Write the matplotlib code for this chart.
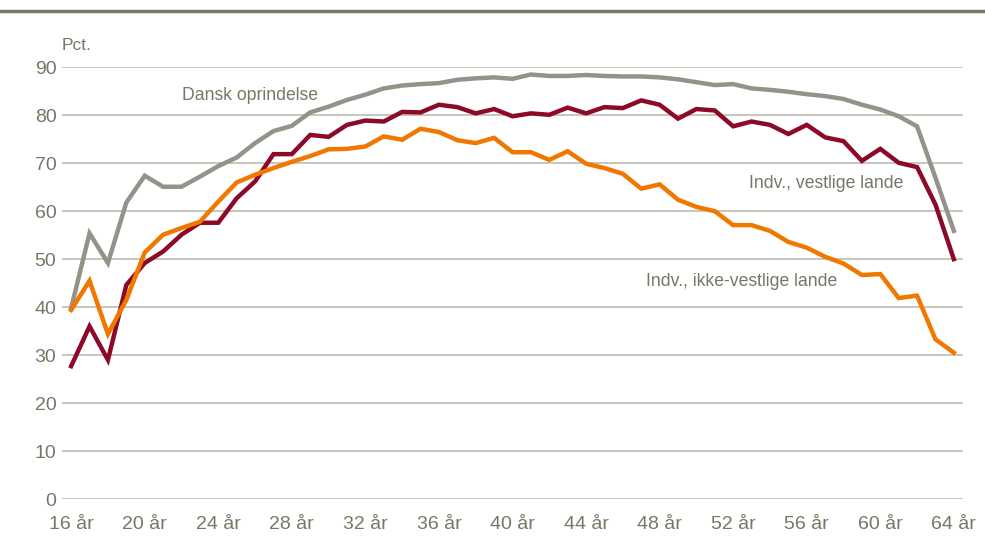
import numpy as np
import matplotlib
matplotlib.use("Agg")
import matplotlib.pyplot as plt

plt.rcParams['font.family'] = ['Liberation Sans', 'DejaVu Sans']

ages = list(range(16, 65))
tick_ages = list(range(16, 65, 4))
tick_labels = [f"{a} år" for a in tick_ages]

dansk = [39.8, 55.4, 49.2, 61.8, 67.4, 65.1, 65.1, 67.2, 69.4, 71.2,
         74.2, 76.7, 77.8, 80.6, 81.8, 83.2, 84.3, 85.6, 86.2, 86.5,
         86.7, 87.4, 87.7, 87.9, 87.6, 88.5, 88.2, 88.2, 88.4, 88.2,
         88.1, 88.1, 87.9, 87.5, 86.9, 86.3, 86.5, 85.6, 85.3, 84.9,
         84.4, 84.0, 83.4, 82.2, 81.2, 79.8, 77.7, 67.0, 55.9]
vestlige = [27.7, 36.0, 29.0, 44.6, 49.2, 51.6, 55.1, 57.6, 57.6, 62.7,
            66.2, 71.9, 71.9, 75.9, 75.5, 78.0, 78.9, 78.7, 80.7, 80.6,
            82.2, 81.7, 80.4, 81.3, 79.8, 80.4, 80.1, 81.6, 80.4, 81.7,
            81.5, 83.1, 82.2, 79.3, 81.3, 81.0, 77.7, 78.7, 78.0, 76.1,
            78.0, 75.4, 74.6, 70.5, 73.0, 70.1, 69.2, 61.4, 50.0]
ikke_vestlige = [39.4, 45.5, 34.4, 41.5, 51.4, 55.1, 56.5, 57.8, 62.0, 66.0,
                 67.6, 69.0, 70.3, 71.5, 72.9, 73.0, 73.5, 75.6, 74.9, 77.2,
                 76.5, 74.8, 74.2, 75.3, 72.3, 72.3, 70.7, 72.5, 69.9, 69.0,
                 67.8, 64.7, 65.6, 62.4, 60.9, 60.0, 57.1, 57.1, 55.9, 53.6,
                 52.4, 50.5, 49.1, 46.7, 46.9, 41.9, 42.4, 33.3, 30.5]

text_col = '#777766'
grid_col = '#bdbcb0'

fig = plt.figure(figsize=(9.85, 5.42), dpi=100)
ax = fig.add_axes([0.0629, 0.0793, 0.9148, 0.7965])

ax.plot(ages, dansk, color='#94938a', lw=3.2, solid_joinstyle='miter', zorder=3)
ax.plot(ages, vestlige, color='#8c0a28', lw=3.2, solid_joinstyle='miter', zorder=4)
ax.plot(ages, ikke_vestlige, color='#f07800', lw=3.2, solid_joinstyle='miter', zorder=5)

ax.set_xlim(15.5, 64.5)
ax.set_ylim(0, 90)
ax.set_yticks(range(0, 91, 10))
ax.set_xticks(tick_ages)
ax.set_xticklabels(tick_labels)
ax.grid(axis='y', color=grid_col, lw=1.2, zorder=0)
ax.set_axisbelow(True)
for s in ax.spines.values():
    s.set_visible(False)
ax.tick_params(length=0, labelsize=14, labelcolor=text_col)
ax.tick_params(axis='y', pad=4)
ax.tick_params(axis='x', pad=12)

ax.text(22.05, 84.2, 'Dansk oprindelse', fontsize=12.7, color=text_col, va='center', ha='left')
ax.text(52.85, 65.7, 'Indv., vestlige lande', fontsize=12.7, color=text_col, va='center', ha='left')
ax.text(47.25, 45.3, 'Indv., ikke-vestlige lande', fontsize=12.7, color=text_col, va='center', ha='left')

fig.text(62 / 985, 1 - 45 / 542, 'Pct.', fontsize=12.5, color=text_col, va='center', ha='left')
fig.add_artist(plt.Line2D([0, 1], [1 - 11 / 542, 1 - 11 / 542], color='#7a7a62', lw=2.5))

fig.savefig('out.png', dpi=100)
